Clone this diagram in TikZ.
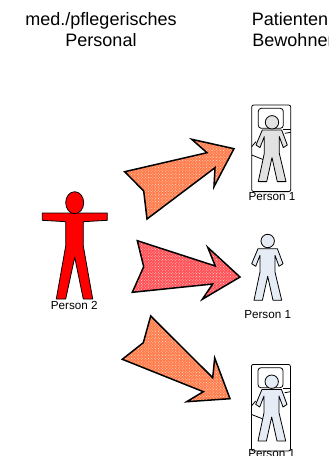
\documentclass[tikz,border=0pt]{standalone}
\usepackage{xcolor}
\usepackage{fontspec}
\setmainfont{Liberation Sans}
\usetikzlibrary{patterns.meta}
\definecolor{staffred}{HTML}{FF0000}
\definecolor{lyinggrey}{HTML}{E2E2E2}
\definecolor{standblue}{HTML}{E6ECF6}
\definecolor{arroworange}{HTML}{FF7A48}
\definecolor{arrowred}{HTML}{FF4F55}
\tikzset{
  heading/.style={font=\fontsize{18}{21}\selectfont,align=center},
  namelabel/.style={font=\fontsize{11.7}{14}\selectfont,inner sep=0pt},
  bigarrow/.style={draw=black,line width=1.5pt,line join=miter},
  bodyline/.style={draw=black,line width=0.8pt,line join=round},
  pics/patient/.style={code={
    \draw[bodyline,fill=#1] (-9.7,7.7) -- (9.7,7.7) -- (15.3,22.7) -- (11.3,25.3) -- (7.3,14.3) -- (7.3,31)
      -- (14,59.3) -- (5.3,59.3) -- (0,35.3) -- (-5.3,59.3) -- (-13.7,59.3) -- (-7.7,31)
      -- (-7.7,14.3) -- (-12,25.3) -- (-16,22.7) -- cycle;
    \draw[bodyline,fill=#1] (0,0) circle (6.7);
  }},
  pics/bedframe/.style={code={
    \draw[bodyline,rounded corners=2pt] (-20.3,-17.3) rectangle (18.7,69.3);
    \draw[bodyline,rounded corners=3pt] (-13.7,-14) rectangle (11.3,6);
    \draw[bodyline] (-16,19.3) -- (-20.3,24.3);
    \draw[bodyline] (-20.3,32.7) -- (-7.7,37.7);
    \draw[bodyline] (11.3,7) -- (18.7,7);
    \draw[bodyline] (13,11) -- (18.7,10);
  }},
}
\begin{document}
\begin{tikzpicture}[x=1pt,y=-1pt]
  \useasboundingbox (0,0) rectangle (329,456);
  \clip (0,0) rectangle (329,456);
  \node[heading] (staffhead) at (101,29.5) {med./pflegerisches\\Personal};
  \node[heading] (residenthead) at (290,29.5) {Patienten\\\hspace{6pt}Bewohner};
  % arrows
  \foreach \c/\p in {arroworange/{(124.7,171.7) -- (207,152.7) -- (191.7,139.3) -- (234,148.7) -- (214,186.7) -- (215,167.7) -- (147,219) -- (143.7,191)},
                     arrowred/{(137.3,240.7) -- (215.3,266) -- (207.7,247.3) -- (240,277) -- (202.3,299.3) -- (212.7,284) -- (132.3,292.3) -- (143.7,266.7)},
                     arroworange/{(150.7,316) -- (212.7,377.7) -- (214.7,358) -- (230,398.7) -- (186.7,401.7) -- (203.3,391.7) -- (122.3,359.3) -- (143.3,342.7)}}{
    \fill[\c] \p -- cycle;
    \fill[pattern={Dots[distance=2pt,radius=0.55pt,angle=45]},pattern color=white!70!\c] \p -- cycle;
    \draw[bigarrow] \p -- cycle;
  }
  % person 2
  \draw[bodyline,fill=staffred] (42.3,213) -- (107.3,213) -- (107.3,220.3) -- (83.3,221.7) -- (83.3,246) -- (92.7,299)
    -- (83.3,299) -- (74.7,257.3) -- (65.7,299) -- (56.3,299) -- (65.7,246) -- (65.7,221.7) -- (42.3,220.3) -- cycle;
  \draw[bodyline,fill=staffred] (74.7,202.7) ellipse (9 and 11);
  \node[namelabel] (nurse) at (74.3,305.7) {Person 2};
  % person 1
  \pic at (272,122.3) {bedframe};
  \pic at (272,122.3) {patient=lyinggrey};
  \node[namelabel] (lying) at (272,196.7) {Person 1};
  \pic at (267.7,241) {patient=standblue};
  \node[namelabel] (standing) at (267.7,315) {Person 1};
  \pic at (271.7,381.7) {bedframe};
  \pic at (271.7,381.7) {patient=standblue};
  \node[namelabel] (bedded) at (271.7,454) {Person 1};
\end{tikzpicture}
\end{document}
